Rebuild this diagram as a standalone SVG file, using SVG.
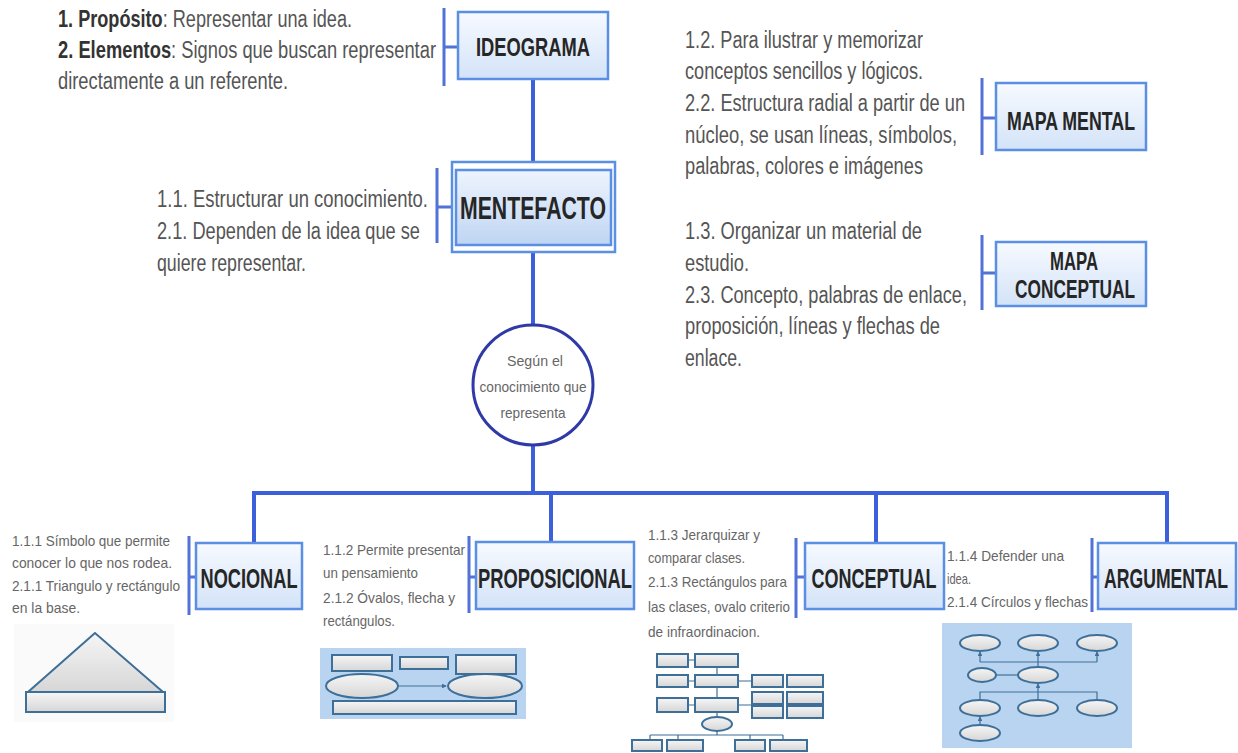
<svg xmlns="http://www.w3.org/2000/svg" width="1238" height="753" viewBox="0 0 1238 753">
<defs>
<linearGradient id="boxg" x1="0" y1="0" x2="0" y2="1">
<stop offset="0" stop-color="#f7faff"/>
<stop offset="1" stop-color="#d3e3f8"/>
</linearGradient>
<linearGradient id="boxg2" x1="0" y1="0" x2="0" y2="1">
<stop offset="0" stop-color="#eef4fd"/>
<stop offset="1" stop-color="#bfd5f3"/>
</linearGradient>
<linearGradient id="shg" x1="0" y1="0" x2="0" y2="1">
<stop offset="0" stop-color="#f6f6f6"/>
<stop offset="1" stop-color="#d6d6d6"/>
</linearGradient>
<marker id="ar" viewBox="0 0 6 6" refX="5" refY="3" markerWidth="4" markerHeight="4" orient="auto">
<path d="M0,0 L6,3 L0,6 z" fill="#3f6f9a"/>
</marker>
</defs>
<style>
.box{fill:url(#boxg);stroke:#5a8fe3;stroke-width:2.5}
.conn{fill:none;stroke:#3c5fdc;stroke-width:4}
.br{fill:none;stroke:#5272d8;stroke-width:3}
.lbl{font-family:"Liberation Sans",Arial,sans-serif;font-weight:bold;fill:#262626;text-anchor:middle}
.t{font-family:"Liberation Sans",Arial,sans-serif;fill:#555;font-size:23px}
.s{font-family:"Liberation Sans",Arial,sans-serif;fill:#666;font-size:15px}
.b{font-weight:bold;fill:#333}
.sh{fill:url(#shg);stroke:#3d6f98;stroke-width:2}
.sl{fill:none;stroke:#3f6f9a;stroke-width:1.2}
</style>
<rect width="1238" height="753" fill="#ffffff"/>

<g id="connectors">
<line class="conn" x1="533" y1="79" x2="533" y2="162"/>
<line class="conn" x1="533" y1="252" x2="533" y2="325"/>
<line class="conn" x1="533" y1="445" x2="533" y2="493"/>
<polyline class="conn" points="254,543 254,493 1167,493 1167,543"/>
<line class="conn" x1="551" y1="493" x2="551" y2="542"/>
<line class="conn" x1="876" y1="493" x2="876" y2="543"/>
</g>

<g id="ideograma">
<path class="br" d="M444,8 V86 M444,47 H458"/>
<rect class="box" x="458" y="12" width="150" height="67"/>
<text class="lbl" x="533" y="56" font-size="25" textLength="114" lengthAdjust="spacingAndGlyphs">IDEOGRAMA</text>
<text class="t" x="58" y="27" textLength="294" lengthAdjust="spacingAndGlyphs"><tspan class="b">1. Propósito</tspan>: Representar una idea.</text>
<text class="t" x="58" y="58" textLength="378" lengthAdjust="spacingAndGlyphs"><tspan class="b">2. Elementos</tspan>: Signos que buscan representar</text>
<text class="t" x="58" y="89" textLength="230" lengthAdjust="spacingAndGlyphs">directamente a un referente.</text>
</g>

<g id="mentefacto">
<path class="br" d="M437,168 V243 M437,207 H452"/>
<rect x="452" y="162" width="163" height="90" fill="none" stroke="#5a8fe3" stroke-width="2.5"/>
<rect x="456" y="170" width="155" height="75" fill="url(#boxg2)" stroke="#5a8fe3" stroke-width="2.5"/>
<text class="lbl" x="533" y="219" font-size="31" textLength="146" lengthAdjust="spacingAndGlyphs">MENTEFACTO</text>
<text class="t" x="157" y="207" textLength="271" lengthAdjust="spacingAndGlyphs">1.1. Estructurar un conocimiento.</text>
<text class="t" x="157" y="239" textLength="263" lengthAdjust="spacingAndGlyphs">2.1. Dependen de la idea que se</text>
<text class="t" x="157" y="271" textLength="149" lengthAdjust="spacingAndGlyphs">quiere representar.</text>
</g>

<g id="mapa-mental">
<path class="br" d="M982,78 V155 M982,118 H996"/>
<rect class="box" x="996" y="83" width="150" height="67"/>
<text class="lbl" x="1071" y="130" font-size="25" textLength="128" lengthAdjust="spacingAndGlyphs">MAPA MENTAL</text>
<text class="t" x="685" y="48" textLength="238" lengthAdjust="spacingAndGlyphs">1.2. Para ilustrar y memorizar</text>
<text class="t" x="685" y="79" textLength="238" lengthAdjust="spacingAndGlyphs">conceptos sencillos y lógicos.</text>
<text class="t" x="685" y="111" textLength="280" lengthAdjust="spacingAndGlyphs">2.2. Estructura radial a partir de un</text>
<text class="t" x="685" y="143" textLength="272" lengthAdjust="spacingAndGlyphs">núcleo, se usan líneas, símbolos,</text>
<text class="t" x="685" y="174" textLength="238" lengthAdjust="spacingAndGlyphs">palabras, colores e imágenes</text>
</g>

<g id="mapa-conceptual">
<path class="br" d="M982,235 V310 M982,273 H996"/>
<rect class="box" x="996" y="242" width="150" height="64"/>
<text class="lbl" x="1074" y="270" font-size="25" textLength="48" lengthAdjust="spacingAndGlyphs">MAPA</text>
<text class="lbl" x="1075" y="298" font-size="25" textLength="120" lengthAdjust="spacingAndGlyphs">CONCEPTUAL</text>
<text class="t" x="685" y="239" textLength="237" lengthAdjust="spacingAndGlyphs">1.3. Organizar un material de</text>
<text class="t" x="685" y="271" textLength="64" lengthAdjust="spacingAndGlyphs">estudio.</text>
<text class="t" x="685" y="303" textLength="282" lengthAdjust="spacingAndGlyphs">2.3. Concepto, palabras de enlace,</text>
<text class="t" x="685" y="334" textLength="255" lengthAdjust="spacingAndGlyphs">proposición, líneas y flechas de</text>
<text class="t" x="685" y="366" textLength="57" lengthAdjust="spacingAndGlyphs">enlace.</text>
</g>

<g id="segun">
<ellipse cx="533" cy="385" rx="60" ry="60" fill="#ffffff" stroke="#2f3aa6" stroke-width="3"/>
<text class="s" x="535" y="366" text-anchor="middle" textLength="56" lengthAdjust="spacingAndGlyphs">Según el</text>
<text class="s" x="533" y="392" text-anchor="middle" textLength="107" lengthAdjust="spacingAndGlyphs">conocimiento que</text>
<text class="s" x="533" y="418" text-anchor="middle" textLength="65" lengthAdjust="spacingAndGlyphs">representa</text>
</g>

<g id="nocional">
<path class="br" d="M189,536 V615 M189,577 H196"/>
<rect class="box" x="196" y="543" width="106" height="66"/>
<text class="lbl" x="249" y="588" font-size="28" textLength="97" lengthAdjust="spacingAndGlyphs">NOCIONAL</text>
<text class="s" x="12" y="546" textLength="158" lengthAdjust="spacingAndGlyphs">1.1.1 Símbolo que permite</text>
<text class="s" x="12" y="568" textLength="160" lengthAdjust="spacingAndGlyphs">conocer lo que nos rodea.</text>
<text class="s" x="12" y="591" textLength="168" lengthAdjust="spacingAndGlyphs">2.1.1 Triangulo y rectángulo</text>
<text class="s" x="12" y="613" textLength="68" lengthAdjust="spacingAndGlyphs">en la base.</text>
<rect x="14" y="624" width="160" height="98" fill="#fafafa"/>
<polygon class="sh" points="95,633 28,692 163,692"/>
<rect class="sh" x="26" y="692" width="139" height="20"/>
</g>

<g id="proposicional">
<path class="br" d="M469,536 V613 M469,577 H476"/>
<rect class="box" x="476" y="542" width="158" height="67"/>
<text class="lbl" x="555" y="588" font-size="28" textLength="154" lengthAdjust="spacingAndGlyphs">PROPOSICIONAL</text>
<text class="s" x="323" y="555" textLength="142" lengthAdjust="spacingAndGlyphs">1.1.2 Permite presentar</text>
<text class="s" x="323" y="578" textLength="95" lengthAdjust="spacingAndGlyphs">un pensamiento</text>
<text class="s" x="323" y="603" textLength="132" lengthAdjust="spacingAndGlyphs">2.1.2 Óvalos, flecha y</text>
<text class="s" x="323" y="626" textLength="72" lengthAdjust="spacingAndGlyphs">rectángulos.</text>
<rect x="320" y="648" width="206" height="71" fill="#b8d4f0"/>
<rect class="sh" x="332" y="655" width="60" height="16"/>
<rect class="sh" x="400" y="657" width="48" height="12"/>
<rect class="sh" x="456" y="655" width="60" height="19"/>
<ellipse class="sh" cx="362" cy="686" rx="36" ry="12"/>
<ellipse class="sh" cx="485" cy="686" rx="37" ry="12"/>
<line class="sl" x1="398" y1="686" x2="446" y2="686" marker-end="url(#ar)"/>
<rect class="sh" x="333" y="701" width="183" height="13"/>
</g>

<g id="conceptual">
<path class="br" d="M796,538 V618 M796,577 H805"/>
<rect class="box" x="805" y="543" width="139" height="66"/>
<text class="lbl" x="874" y="588" font-size="28" textLength="125" lengthAdjust="spacingAndGlyphs">CONCEPTUAL</text>
<text class="s" x="648" y="540" textLength="112" lengthAdjust="spacingAndGlyphs">1.1.3 Jerarquizar y</text>
<text class="s" x="648" y="563" textLength="97" lengthAdjust="spacingAndGlyphs">comparar clases.</text>
<text class="s" x="648" y="587" textLength="139" lengthAdjust="spacingAndGlyphs">2.1.3 Rectángulos para</text>
<text class="s" x="648" y="612" textLength="142" lengthAdjust="spacingAndGlyphs">las clases, ovalo criterio</text>
<text class="s" x="648" y="637" textLength="112" lengthAdjust="spacingAndGlyphs">de infraordinacion.</text>
<path class="sl" d="M717,667 V717 M717,731 V735 M650,735 H783 M650,735 V740 M678,735 V740 M783,735 V740 M750,735 V740"/>
<path class="sl" d="M688,660 H695 M688,681 H695 M688,705 H695 M738,681 H752 M738,705 H752"/>
<rect class="sh" x="657" y="654" width="31" height="13"/>
<rect class="sh" x="695" y="654" width="43" height="13"/>
<rect class="sh" x="657" y="675" width="31" height="12"/>
<rect class="sh" x="695" y="675" width="43" height="12"/>
<rect class="sh" x="752" y="675" width="31" height="12"/>
<rect class="sh" x="787" y="675" width="36" height="12"/>
<rect class="sh" x="657" y="698" width="31" height="14"/>
<rect class="sh" x="695" y="698" width="43" height="14"/>
<rect class="sh" x="752" y="692" width="31" height="12"/>
<rect class="sh" x="787" y="692" width="36" height="12"/>
<rect class="sh" x="752" y="706" width="31" height="12"/>
<rect class="sh" x="787" y="706" width="36" height="12"/>
<ellipse class="sh" cx="717" cy="724" rx="15" ry="7"/>
<rect class="sh" x="632" y="740" width="30" height="11"/>
<rect class="sh" x="667" y="740" width="36" height="11"/>
<rect class="sh" x="735" y="740" width="30" height="11"/>
<rect class="sh" x="770" y="740" width="37" height="11"/>
</g>

<g id="argumental">
<path class="br" d="M1092,538 V612 M1092,577 H1098"/>
<rect class="box" x="1098" y="543" width="138" height="66"/>
<text class="lbl" x="1166" y="588" font-size="28" textLength="124" lengthAdjust="spacingAndGlyphs">ARGUMENTAL</text>
<text class="s" x="947" y="561" textLength="117" lengthAdjust="spacingAndGlyphs">1.1.4 Defender una</text>
<text class="s" x="947" y="584" textLength="24" lengthAdjust="spacingAndGlyphs">idea.</text>
<text class="s" x="947" y="607" textLength="141" lengthAdjust="spacingAndGlyphs">2.1.4 Círculos y flechas</text>
<rect x="942" y="623" width="190" height="125" fill="#b8d4f0"/>
<path class="sl" d="M980,662 H1097 M1038,667 V662"/>
<line class="sl" x1="980" y1="662" x2="980" y2="652" marker-end="url(#ar)"/>
<line class="sl" x1="1038" y1="662" x2="1038" y2="652" marker-end="url(#ar)"/>
<line class="sl" x1="1097" y1="662" x2="1097" y2="652" marker-end="url(#ar)"/>
<line class="sl" x1="996" y1="675" x2="1018" y2="675"/>
<path class="sl" d="M980,700 V692 H1097 V700"/>
<line class="sl" x1="1038" y1="700" x2="1038" y2="684" marker-end="url(#ar)"/>
<line class="sl" x1="980" y1="725" x2="980" y2="717" marker-end="url(#ar)"/>
<ellipse class="sh" cx="980" cy="643" rx="20" ry="8"/>
<ellipse class="sh" cx="1038" cy="643" rx="20" ry="8"/>
<ellipse class="sh" cx="1097" cy="643" rx="20" ry="8"/>
<ellipse class="sh" cx="982" cy="675" rx="14" ry="7"/>
<ellipse class="sh" cx="1038" cy="675" rx="20" ry="8"/>
<ellipse class="sh" cx="980" cy="708" rx="20" ry="8"/>
<ellipse class="sh" cx="1038" cy="708" rx="20" ry="8"/>
<ellipse class="sh" cx="1097" cy="708" rx="20" ry="8"/>
<ellipse class="sh" cx="980" cy="733" rx="20" ry="8"/>
</g>
</svg>
